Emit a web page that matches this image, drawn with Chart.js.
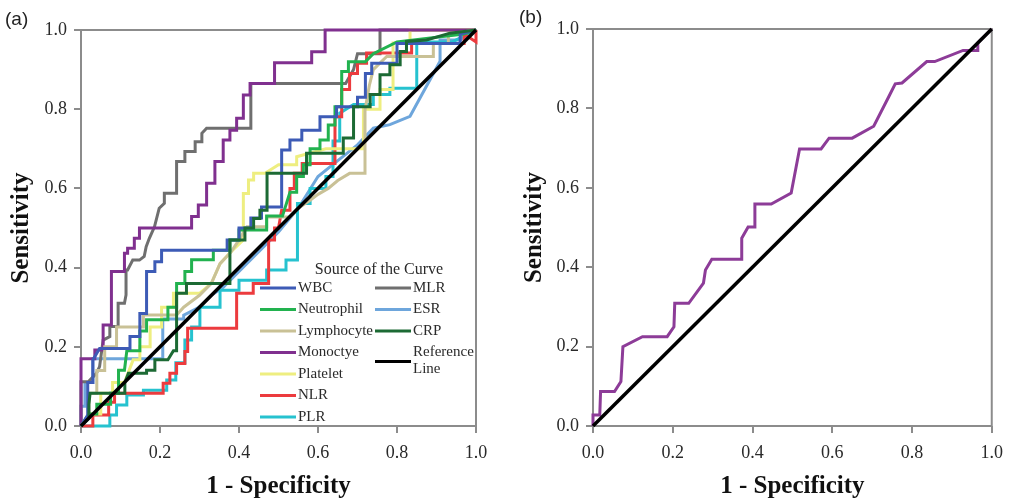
<!DOCTYPE html>
<html>
<head>
<meta charset="utf-8">
<script src="https://cdn.jsdelivr.net/npm/chart.js@4.4.0/dist/chart.umd.min.js"></script>
<style>
  html, body { margin: 0; padding: 0; background: #fff; }
  #wrap { position: relative; width: 1012px; height: 501px; overflow: hidden; }
  .panel { position: absolute; top: 0; width: 506px; height: 501px; }
  .tag { position: absolute; font-family: "Liberation Sans", Arial, sans-serif; font-size: 19px; color: #222; }
</style>
</head>
<body>
<div id="wrap">
  <div class="panel" style="left:0"><canvas id="chartA"></canvas></div>
  <div class="panel" style="left:506px"><canvas id="chartB"></canvas></div>
  <div class="tag" style="left:5px;top:8px">(a)</div>
  <div class="tag" style="left:519px;top:6px">(b)</div>
</div>
<script>
// axis text
const tickLabels = ["0.0", "0.2", "0.4", "0.6", "0.8", "1.0"];
const xTitle = "1 - Specificity";
const yTitle = "Sensitivity";
const legendTitle = "Source of the Curve";

// panel (a) curves, [1 - specificity, sensitivity]
const wbc = [[0,0],[0.017,0.028],[0.017,0.11],[0.03,0.11],[0.03,0.167],[0.047,0.196],[0.124,0.196],[0.124,0.226],[0.149,0.226],[0.149,0.284],[0.166,0.284],[0.166,0.39],[0.187,0.39],[0.187,0.415],[0.204,0.415],[0.204,0.444],[0.37,0.444],[0.37,0.47],[0.4,0.47],[0.4,0.5],[0.43,0.5],[0.43,0.525],[0.457,0.525],[0.457,0.553],[0.508,0.553],[0.508,0.697],[0.529,0.697],[0.529,0.722],[0.559,0.722],[0.559,0.747],[0.605,0.747],[0.605,0.781],[0.647,0.781],[0.647,0.806],[0.7,0.806],[0.7,0.83],[0.72,0.83],[0.72,0.89],[0.736,0.89],[0.736,0.916],[0.8,0.916],[0.8,0.966],[0.96,0.966],[0.96,0.99],[1,1]];
const neutrophil = [[0,0],[0.02,0.03],[0.04,0.03],[0.04,0.055],[0.075,0.055],[0.075,0.083],[0.095,0.083],[0.095,0.141],[0.11,0.141],[0.116,0.19],[0.149,0.19],[0.149,0.24],[0.166,0.24],[0.166,0.268],[0.22,0.268],[0.22,0.3],[0.242,0.3],[0.242,0.36],[0.263,0.36],[0.263,0.39],[0.28,0.39],[0.28,0.42],[0.335,0.42],[0.335,0.444],[0.377,0.444],[0.377,0.47],[0.4,0.47],[0.4,0.495],[0.47,0.495],[0.47,0.53],[0.51,0.53],[0.529,0.59],[0.546,0.59],[0.546,0.63],[0.563,0.63],[0.563,0.66],[0.58,0.66],[0.58,0.7],[0.605,0.7],[0.605,0.722],[0.626,0.722],[0.626,0.76],[0.643,0.76],[0.643,0.806],[0.66,0.806],[0.66,0.895],[0.677,0.895],[0.677,0.92],[0.72,0.92],[0.74,0.94],[0.8,0.97],[0.97,0.99],[1,1]];
const lymphocyte = [[0,0],[0.02,0.03],[0.02,0.083],[0.04,0.083],[0.04,0.14],[0.06,0.14],[0.06,0.2],[0.09,0.2],[0.09,0.25],[0.158,0.25],[0.158,0.28],[0.242,0.28],[0.26,0.3],[0.3,0.33],[0.33,0.36],[0.352,0.41],[0.38,0.44],[0.4,0.47],[0.42,0.503],[0.47,0.503],[0.47,0.528],[0.529,0.528],[0.55,0.55],[0.58,0.57],[0.6,0.585],[0.626,0.6],[0.65,0.62],[0.68,0.638],[0.719,0.638],[0.719,0.798],[0.73,0.86],[0.74,0.9],[0.774,0.933],[0.892,0.933],[0.892,0.966],[0.93,0.966],[0.93,0.99],[1,1]];
const monocyte = [[0,0],[0,0.17],[0.035,0.17],[0.035,0.192],[0.056,0.192],[0.056,0.255],[0.077,0.255],[0.077,0.39],[0.11,0.39],[0.11,0.436],[0.118,0.436],[0.118,0.449],[0.135,0.449],[0.135,0.474],[0.148,0.474],[0.148,0.5],[0.28,0.5],[0.28,0.529],[0.297,0.529],[0.297,0.558],[0.318,0.558],[0.318,0.613],[0.339,0.613],[0.339,0.668],[0.36,0.668],[0.36,0.722],[0.377,0.722],[0.377,0.747],[0.394,0.747],[0.394,0.777],[0.411,0.777],[0.411,0.836],[0.428,0.836],[0.428,0.865],[0.49,0.865],[0.49,0.917],[0.584,0.917],[0.584,0.945],[0.618,0.945],[0.618,1],[1,1]];
const platelet = [[0,0],[0.02,0.03],[0.05,0.03],[0.05,0.083],[0.08,0.083],[0.08,0.11],[0.11,0.11],[0.132,0.167],[0.149,0.167],[0.149,0.2],[0.175,0.2],[0.175,0.25],[0.204,0.25],[0.204,0.3],[0.234,0.3],[0.234,0.335],[0.3,0.335],[0.33,0.36],[0.352,0.41],[0.38,0.44],[0.411,0.47],[0.411,0.587],[0.424,0.587],[0.424,0.621],[0.437,0.621],[0.437,0.638],[0.466,0.638],[0.5,0.66],[0.546,0.66],[0.546,0.68],[0.62,0.7],[0.715,0.7],[0.715,0.8],[0.757,0.8],[0.757,0.85],[0.79,0.85],[0.79,0.967],[0.833,0.967],[0.833,1],[1,1]];
const nlr = [[0,0],[0.03,0],[0.03,0.028],[0.07,0.028],[0.07,0.06],[0.085,0.06],[0.085,0.083],[0.208,0.083],[0.208,0.108],[0.225,0.108],[0.225,0.133],[0.242,0.133],[0.242,0.158],[0.263,0.158],[0.263,0.188],[0.27,0.188],[0.27,0.247],[0.394,0.247],[0.394,0.335],[0.436,0.335],[0.436,0.36],[0.475,0.36],[0.475,0.47],[0.49,0.47],[0.49,0.5],[0.5,0.5],[0.508,0.545],[0.529,0.545],[0.529,0.6],[0.54,0.6],[0.54,0.638],[0.56,0.638],[0.56,0.663],[0.643,0.663],[0.643,0.781],[0.66,0.781],[0.66,0.85],[0.68,0.85],[0.68,0.89],[0.7,0.89],[0.7,0.916],[0.723,0.916],[0.723,0.942],[0.837,0.942],[0.837,0.966],[0.97,0.966],[0.97,0.99],[1,0.97],[1,1]];
const plr = [[0,0],[0.073,0],[0.073,0.028],[0.09,0.028],[0.09,0.053],[0.116,0.053],[0.116,0.078],[0.158,0.078],[0.158,0.09],[0.217,0.09],[0.217,0.116],[0.24,0.116],[0.24,0.16],[0.263,0.16],[0.263,0.217],[0.28,0.217],[0.28,0.25],[0.301,0.25],[0.301,0.3],[0.352,0.3],[0.352,0.343],[0.4,0.343],[0.4,0.368],[0.47,0.368],[0.47,0.394],[0.519,0.394],[0.519,0.419],[0.548,0.419],[0.548,0.562],[0.58,0.562],[0.58,0.6],[0.62,0.6],[0.62,0.63],[0.638,0.63],[0.638,0.72],[0.655,0.72],[0.655,0.79],[0.69,0.812],[0.74,0.812],[0.74,0.837],[0.782,0.837],[0.782,0.853],[0.85,0.853],[0.85,0.97],[0.94,0.97],[1,1]];
const mlr = [[0,0],[0,0.112],[0.019,0.112],[0.039,0.133],[0.047,0.15],[0.056,0.217],[0.073,0.226],[0.073,0.251],[0.094,0.251],[0.094,0.31],[0.11,0.31],[0.114,0.331],[0.114,0.394],[0.118,0.394],[0.131,0.419],[0.148,0.419],[0.16,0.428],[0.165,0.453],[0.173,0.474],[0.186,0.503],[0.198,0.55],[0.211,0.562],[0.211,0.588],[0.242,0.588],[0.242,0.668],[0.263,0.668],[0.263,0.693],[0.289,0.693],[0.289,0.718],[0.306,0.718],[0.306,0.739],[0.318,0.752],[0.43,0.752],[0.43,0.865],[0.67,0.865],[0.69,0.9],[0.7,0.94],[0.757,0.94],[0.757,1],[1,1]];
const esr = [[0,0],[0,0.05],[0.01,0.05],[0.01,0.11],[0.03,0.11],[0.03,0.17],[0.207,0.17],[0.207,0.27],[0.26,0.27],[0.26,0.28],[0.3,0.3],[0.33,0.33],[0.36,0.35],[0.4,0.39],[0.45,0.44],[0.5,0.49],[0.55,0.55],[0.6,0.63],[0.65,0.67],[0.7,0.71],[0.74,0.752],[0.782,0.761],[0.833,0.782],[0.909,0.921],[0.909,0.975],[0.96,0.975],[1,1]];
const crp = [[0,0],[0.02,0.02],[0.02,0.055],[0.023,0.083],[0.111,0.083],[0.111,0.11],[0.12,0.133],[0.166,0.133],[0.166,0.141],[0.187,0.141],[0.187,0.167],[0.22,0.167],[0.234,0.19],[0.242,0.19],[0.242,0.335],[0.267,0.335],[0.267,0.36],[0.377,0.36],[0.377,0.47],[0.415,0.47],[0.415,0.5],[0.437,0.5],[0.437,0.524],[0.453,0.524],[0.453,0.545],[0.471,0.545],[0.471,0.638],[0.571,0.638],[0.571,0.689],[0.664,0.689],[0.664,0.727],[0.69,0.727],[0.69,0.806],[0.732,0.806],[0.732,0.837],[0.757,0.837],[0.757,0.887],[0.782,0.887],[0.782,0.912],[0.808,0.912],[0.808,0.946],[0.824,0.946],[0.824,0.971],[0.875,0.975],[0.934,0.992],[1,1]];
const reference = [[0,0],[1,1]];

// panel (b) curve
const curveB = [[0,0],[0,0.028],[0.017,0.028],[0.019,0.087],[0.054,0.087],[0.07,0.112],[0.075,0.2],[0.124,0.225],[0.186,0.225],[0.203,0.25],[0.205,0.309],[0.24,0.309],[0.277,0.36],[0.282,0.393],[0.298,0.42],[0.373,0.42],[0.373,0.473],[0.389,0.501],[0.406,0.501],[0.406,0.559],[0.447,0.559],[0.497,0.587],[0.518,0.698],[0.572,0.698],[0.592,0.725],[0.65,0.725],[0.704,0.755],[0.742,0.83],[0.758,0.862],[0.775,0.864],[0.837,0.918],[0.857,0.918],[0.928,0.946],[0.965,0.946],[0.965,0.965],[1,1]];

const curveNames = ["WBC", "Neutrophil", "Lymphocyte", "Monoctye", "Platelet", "NLR", "PLR", "MLR", "ESR", "CRP", "Reference Line"];
const curveData = [wbc, neutrophil, lymphocyte, monocyte, platelet, nlr, plr, mlr, esr, crp, reference];

const curveColors = ["#3d5bb6", "#22b24f", "#c9c196", "#80308f", "#eeee80", "#ec3b3e", "#26c2cf", "#6f6f6f", "#6ea6dc", "#1c6a34", "#000000"];

const serif = '"Liberation Serif", "Times New Roman", serif';

const framePlugin = {
  id: "frame",
  beforeDatasetsDraw(chart) {
    const { ctx, chartArea: a } = chart;
    ctx.save();
    ctx.strokeStyle = "#8c8c8c";
    ctx.lineWidth = 2;
    ctx.strokeRect(a.left, a.top, a.right - a.left, a.bottom - a.top);
    ctx.restore();
  }
};

// legend box of panel (a), drawn inside the plot
const curveLegend = {
  id: "curveLegend",
  afterDatasetsDraw(chart, args, opts) {
    if (!opts.show) return;
    const ctx = chart.ctx;
    ctx.save();
    ctx.fillStyle = "#2a2a2a";
    ctx.textBaseline = "middle";
    ctx.textAlign = "center";
    ctx.font = "16px " + serif;
    ctx.fillText(legendTitle, 379, 270);
    ctx.font = "15px " + serif;
    ctx.textAlign = "left";
    ctx.lineWidth = 3;
    curveNames.forEach((name, i) => {
      const right = i >= 7;
      const row = right ? i - 7 : i;
      const x0 = right ? 375 : 260;
      const y = 288 + row * 21.5;
      const parts = name === "Reference Line" ? ["Reference", "Line"] : [name];
      const ly = parts.length > 1 ? y + 9 : y;
      ctx.strokeStyle = curveColors[i];
      ctx.beginPath();
      ctx.moveTo(x0, ly);
      ctx.lineTo(x0 + 36, ly);
      ctx.stroke();
      parts.forEach((p, k) => ctx.fillText(p, x0 + 38, y + k * 17));
    });
    ctx.restore();
  }
};

function axisOptions(isX, axisWidth) {
  return {
    type: "linear",
    min: 0,
    max: 1,
    grid: { display: true, drawOnChartArea: false, drawTicks: true, tickLength: 7, color: "#8c8c8c", lineWidth: 2 },
    border: { display: false },
    ticks: {
      stepSize: 0.2,
      padding: isX ? 9 : 7,
      color: "#2a2a2a",
      font: { family: serif, size: 18 },
      callback: (v, i) => tickLabels[i]
    },
    title: {
      display: true,
      text: isX ? xTitle : yTitle,
      color: "#111",
      font: { family: serif, size: 25, weight: "bold" },
      padding: isX ? { top: 0, bottom: -1 } : { top: axisWidth === 81 ? 7 : 14, bottom: 0 }
    },
    afterFit(scale) {
      if (isX) scale.height = 75; else scale.width = axisWidth;
    }
  };
}

function makeChart(id, datasets, yWidth, pad, withLegend) {
  return new Chart(document.getElementById(id), {
    type: "line",
    data: { datasets },
    options: {
      responsive: true,
      maintainAspectRatio: false,
      animation: false,
      layout: { padding: pad },
      elements: { point: { radius: 0 }, line: { tension: 0 } },
      plugins: { legend: { display: false }, tooltip: { enabled: false }, curveLegend: { show: withLegend } },
      scales: { x: axisOptions(true, yWidth), y: axisOptions(false, yWidth) }
    },
    plugins: [framePlugin, curveLegend]
  });
}

const datasetsA = curveNames.map((name, i) => ({
  label: name,
  data: curveData[i].map(p => ({ x: p[0], y: p[1] })),
  borderColor: curveColors[i],
  borderWidth: name === "Reference Line" ? 3.5 : 3,
  clip: 4,
  order: name === "Reference Line" ? 0 : (name === "CRP" ? 1 : 2 + i)
}));

const datasetsB = [
  { label: "Reference Line", data: reference.map(p => ({ x: p[0], y: p[1] })), borderColor: "#000", borderWidth: 3.5, clip: 4 },
  { label: "Curve", data: curveB.map(p => ({ x: p[0], y: p[1] })), borderColor: "#8d3c98", borderWidth: 3, clip: 4 }
];

makeChart("chartA", datasetsA, 81, { top: 30, right: 30, left: 0, bottom: 0 }, true);
makeChart("chartB", datasetsB, 87, { top: 29, right: 16, left: 0, bottom: 0 }, false);
</script>
</body>
</html>
